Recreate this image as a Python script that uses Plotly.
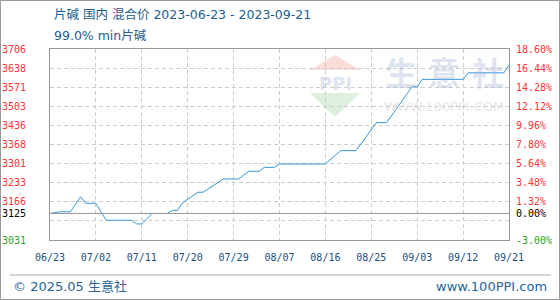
import plotly.graph_objects as go

# ---------------- data ----------------
dates = ["2023-06-23", "2023-06-25", "2023-06-27", "2023-06-29", "2023-06-30",
         "2023-07-02", "2023-07-04", "2023-07-09", "2023-07-10", "2023-07-11",
         "2023-07-13", "2023-07-16", "2023-07-17", "2023-07-18", "2023-07-19",
         "2023-07-22", "2023-07-23", "2023-07-27", "2023-07-30", "2023-08-01",
         "2023-08-03", "2023-08-04", "2023-08-06", "2023-08-07", "2023-08-16",
         "2023-08-19", "2023-08-22", "2023-08-26", "2023-08-28", "2023-09-02",
         "2023-09-03", "2023-09-04", "2023-09-12", "2023-09-13", "2023-09-20",
         "2023-09-21"]
prices = [3125, 3131, 3131, 3184, 3161,
          3161, 3101, 3101, 3088, 3088,
          3125, 3125, 3136, 3136, 3163,
          3200, 3200, 3247, 3247, 3274,
          3274, 3288, 3288, 3300, 3300,
          3347, 3347, 3446, 3446, 3573,
          3573, 3599, 3599, 3622, 3622,
          3650]

BASE = 3125
x_tick_dates = ["2023-06-23", "2023-07-02", "2023-07-11", "2023-07-20", "2023-07-29",
                "2023-08-07", "2023-08-16", "2023-08-25", "2023-09-03", "2023-09-12",
                "2023-09-21"]
x_tick_labels = ["06/23", "07/02", "07/11", "07/20", "07/29", "08/07",
                 "08/16", "08/25", "09/03", "09/12", "09/21"]
pct_ticks = [-3.00, -0.84, 0.00, 1.32, 3.48, 5.64, 7.80, 9.96, 12.12, 14.28, 16.44, 18.60]
pct_labels = ["-3.00%", "", "0.00%", "1.32%", "3.48%", "5.64%", "7.80%", "9.96%",
              "12.12%", "14.28%", "16.44%", "18.60%"]
price_labels = ["3031", "", "3125", "3166", "3233", "3301", "3368", "3436",
                "3503", "3571", "3638", "3706"]

title_line1 = "片碱 国内 混合价 2023-06-23 - 2023-09-21"
title_line2 = "99.0% min片碱"
footer_left = "© 2025.05 生意社"
footer_right = "www.100PPI.com"

RED = "#ff3333"
GREEN = "#2aa52a"
BLACK = "#000000"


def label_color(t):
    return GREEN if t < 0 else (BLACK if t == 0 else RED)


price_ticks = [BASE * (1 + p / 100) for p in pct_ticks]

# ---------------- geometry helpers (layout decoration) ----------------
W, H = 560, 300
ML, MR, MT, MB = 50, 51, 49, 60
PW, PH = W - ML - MR, H - MT - MB


def px(x):
    return (x - ML) / PW


def py(y):
    return (H - MB - y) / PH


fig = go.Figure()
fig.add_trace(go.Scatter(x=dates, y=prices, mode="lines",
                         line=dict(color="#3797da", width=1),
                         hoverinfo="skip", showlegend=False))
# invisible trace for right axis
fig.add_trace(go.Scatter(x=[dates[0]], y=[0], yaxis="y2", mode="markers",
                         marker=dict(opacity=0), hoverinfo="skip", showlegend=False))

grid = dict(showgrid=True, gridcolor="#cccccc", griddash="4px,3px", gridwidth=1)

fig.update_layout(
    width=W, height=H,
    margin=dict(l=ML, r=MR, t=MT, b=MB, autoexpand=False),
    paper_bgcolor="white", plot_bgcolor="white",
    xaxis=dict(type="date", range=[dates[0], dates[-1]],
               tickvals=x_tick_dates, ticktext=x_tick_labels,
               tickfont=dict(family="DejaVu Sans Mono", size=10, color="#1b4f7e"),
               showline=True, linecolor="#999999", linewidth=1, mirror=True,
               ticks="", ticklabelstandoff=8, zeroline=False, automargin=False, **grid),
    yaxis=dict(range=[price_ticks[0], price_ticks[-1]],
               tickvals=price_ticks, showticklabels=False,
               showline=True, linecolor="#999999", linewidth=1, mirror=True,
               ticks="", zeroline=False, automargin=False, **grid),
    yaxis2=dict(range=[pct_ticks[0], pct_ticks[-1]], overlaying="y", side="right",
                tickvals=pct_ticks, showticklabels=False, automargin=False,
                showgrid=False, zeroline=False, showline=False, ticks=""),
)

shapes = []
# base (0%) line solid
shapes.append(dict(type="line", xref="paper", yref="y", x0=0, x1=1, y0=BASE, y1=BASE,
                   line=dict(color="#999999", width=1), layer="above"))
# outer border
shapes.append(dict(type="rect", xref="paper", yref="paper",
                   x0=px(0.5), x1=px(W - 0.5), y0=py(H - 0.5), y1=py(0.5),
                   line=dict(color="#999999", width=1), fillcolor="rgba(0,0,0,0)"))
# footer separator
shapes.append(dict(type="line", xref="paper", yref="paper",
                   x0=px(10), x1=px(551), y0=py(275), y1=py(275),
                   line=dict(color="#aaaaaa", width=1)))
# logo triangles (watermark)
shapes.append(dict(type="path", xref="paper", yref="paper", layer="below",
                   path=f"M {px(310)},{py(70)} L {px(360)},{py(70)} L {px(335)},{py(55)} Z",
                   fillcolor="#fadcd9", line=dict(width=0)))
shapes.append(dict(type="path", xref="paper", yref="paper", layer="below",
                   path=f"M {px(310)},{py(93)} L {px(360)},{py(93)} L {px(335)},{py(117)} Z",
                   fillcolor="#dcf0dd", line=dict(width=0)))
fig.update_layout(shapes=shapes)

wm = "rgba(160,178,210,0.35)"
tfont = "DejaVu Sans, Noto Sans CJK SC"
ann = [
    dict(text=title_line1, x=px(52), y=py(15), xanchor="left", yanchor="middle",
         font=dict(family=tfont, size=12.5, color="#1d5e8e")),
    dict(text=title_line2, x=px(52), y=py(35), xanchor="left", yanchor="middle",
         font=dict(family=tfont, size=12.5, color="#1d5e8e")),
    dict(text=footer_left, x=px(11), y=py(286), xanchor="left", yanchor="middle",
         font=dict(family=tfont, size=13, color="#2a6595")),
    dict(text=footer_right, x=px(549), y=py(286), xanchor="right", yanchor="middle",
         font=dict(family="DejaVu Sans", size=13, color="#2a6595")),
    dict(text="<b>PPI</b>", x=px(335), y=py(83), xanchor="center", yanchor="middle",
         font=dict(family="DejaVu Sans", size=18, color=wm)),
    dict(text="<b>生</b>", x=px(401), y=py(71), xanchor="center", yanchor="middle",
         font=dict(family="Noto Sans CJK SC", size=32, color=wm)),
    dict(text="<b>意</b>", x=px(444), y=py(71), xanchor="center", yanchor="middle",
         font=dict(family="Noto Sans CJK SC", size=32, color=wm)),
    dict(text="<b>社</b>", x=px(488), y=py(71), xanchor="center", yanchor="middle",
         font=dict(family="Noto Sans CJK SC", size=32, color=wm)),
    dict(text="WWW.100PPI.COM", x=px(444), y=py(106), xanchor="center", yanchor="middle",
         font=dict(family="DejaVu Sans", size=13, color="rgba(200,200,200,0.45)")),
]
for a in ann:
    a.update(xref="paper", yref="paper", showarrow=False)

# y tick labels (left: price, right: percent) placed on the axis scales
for lab, pv, t in zip(price_labels, price_ticks, pct_ticks):
    if lab:
        ann.append(dict(text=lab, xref="paper", yref="y", x=px(28), y=pv,
                        xanchor="right", yanchor="middle", showarrow=False,
                        font=dict(family="DejaVu Sans Mono", size=10, color=label_color(t))))
for lab, t in zip(pct_labels, pct_ticks):
    if lab:
        ann.append(dict(text=lab, xref="paper", yref="y2", x=px(514), y=t,
                        xanchor="left", yanchor="middle", showarrow=False,
                        font=dict(family="DejaVu Sans Mono", size=10, color=label_color(t))))
fig.update_layout(annotations=ann)

fig.write_html("out.html", config={"displayModeBar": False})
